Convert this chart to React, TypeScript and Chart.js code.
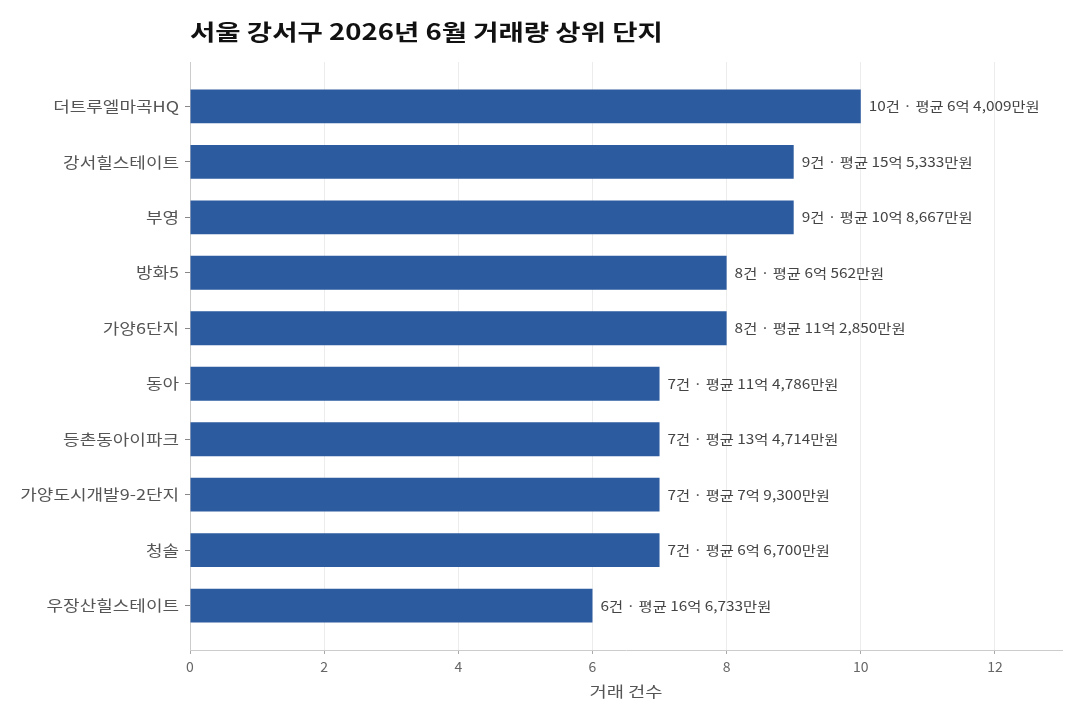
import { useEffect, useRef } from "react";
import { Chart, registerables } from "chart.js";

Chart.register(...registerables);

const TITLE = "서울 강서구 2026년 6월 거래량 상위 단지";
const X_TITLE = "거래 건수";
const complexes = [
  "더트루엘마곡HQ",
  "강서힐스테이트",
  "부영",
  "방화5",
  "가양6단지",
  "동아",
  "등촌동아이파크",
  "가양도시개발9-2단지",
  "청솔",
  "우장산힐스테이트",
];
const tradeCounts = [10, 9, 9, 8, 8, 7, 7, 7, 7, 6];
const avgPrices = [
  "6억 4,009만원",
  "15억 5,333만원",
  "10억 8,667만원",
  "6억 562만원",
  "11억 2,850만원",
  "11억 4,786만원",
  "13억 4,714만원",
  "7억 9,300만원",
  "6억 6,700만원",
  "16억 6,733만원",
];
const xTicks = [0, 2, 4, 6, 8, 10, 12];

const FONT = "'Noto Sans CJK KR', 'Noto Sans', sans-serif";

// the reference uses a wider hangul face, so text is stretched a little
function wideText(
  ctx: CanvasRenderingContext2D,
  text: string,
  x: number,
  y: number,
  align: "left" | "right" | "center",
  stretch: number
) {
  ctx.save();
  ctx.translate(x, y);
  ctx.scale(stretch, 1);
  ctx.textAlign = align;
  ctx.textBaseline = "middle";
  ctx.fillText(text, 0, 0);
  ctx.restore();
}

const textLayer = {
  id: "textLayer",
  afterDraw(chart: any) {
    const { ctx, chartArea } = chart;
    const meta = chart.getDatasetMeta(0);
    const yScale = chart.scales.y;

    ctx.save();
    // title
    ctx.font = `bold 22px ${FONT}`;
    ctx.fillStyle = "#111";
    wideText(ctx, TITLE, chartArea.left, 32, "left", 1.25);

    // category labels
    ctx.font = `15px ${FONT}`;
    ctx.fillStyle = "#555";
    complexes.forEach((name, i) => {
      wideText(ctx, name, chartArea.left - 11, yScale.getPixelForValue(i), "right", 1.2);
    });

    // value labels
    ctx.font = `13px ${FONT}`;
    ctx.fillStyle = "#444";
    meta.data.forEach((bar: any, i: number) => {
      wideText(ctx, `${tradeCounts[i]}건 · 평균 ${avgPrices[i]}`, bar.x + 8, bar.y, "left", 1.18);
    });

    // x axis title
    ctx.font = `15px ${FONT}`;
    ctx.fillStyle = "#555";
    wideText(ctx, X_TITLE, (chartArea.left + chartArea.right) / 2, 691, "center", 1.25);
    ctx.restore();
  },
};

export default function App() {
  const chartRef = useRef<HTMLCanvasElement>(null);
  const chartInstance = useRef<Chart | null>(null);

  useEffect(() => {
    document.body.style.margin = "0";
    if (!chartRef.current) return;
    if (chartInstance.current) chartInstance.current.destroy();
    const ctx = chartRef.current.getContext("2d");
    if (!ctx) return;

    chartInstance.current = new Chart(ctx, {
      type: "bar",
      data: {
        datasets: [
          {
            data: tradeCounts.map((c, i) => ({ x: c, y: i })),
            backgroundColor: "#2c5ba0",
            barPercentage: 0.61,
            categoryPercentage: 1,
          },
        ],
      },
      options: {
        indexAxis: "y",
        responsive: false,
        animation: false,
        layout: { padding: { top: 62, right: 18, left: 0, bottom: 0 } },
        plugins: {
          legend: { display: false },
          tooltip: { enabled: false },
          title: { display: false },
        },
        scales: {
          x: {
            type: "linear",
            min: 0,
            max: 13,
            afterBuildTicks: (scale: any) => {
              scale.ticks = xTicks.map((v) => ({ value: v }));
            },
            afterFit: (scale: any) => {
              scale.height = 70;
            },
            grid: { color: "#ececec", tickColor: "#aaa", tickLength: 4 },
            border: { color: "#ccc" },
            ticks: {
              color: "#666",
              font: { family: FONT, size: 14 },
              padding: 4,
            },
          },
          y: {
            type: "linear",
            reverse: true,
            offset: false,
            min: -0.8,
            max: 9.8,
            afterBuildTicks: (scale: any) => {
              scale.ticks = complexes.map((_, i) => ({ value: i }));
            },
            afterFit: (scale: any) => {
              scale.width = 190;
            },
            grid: { drawOnChartArea: false, offset: false, tickColor: "#888", tickLength: 5 },
            border: { color: "#ccc" },
            ticks: { display: false },
          },
        },
      },
      plugins: [textLayer],
    });

    return () => {
      if (chartInstance.current) {
        chartInstance.current.destroy();
        chartInstance.current = null;
      }
    };
  }, []);

  return (
    <div style={{ width: 1080, height: 720 }}>
      <canvas ref={chartRef} width={1080} height={720} style={{ width: 1080, height: 720 }} />
    </div>
  );
}
